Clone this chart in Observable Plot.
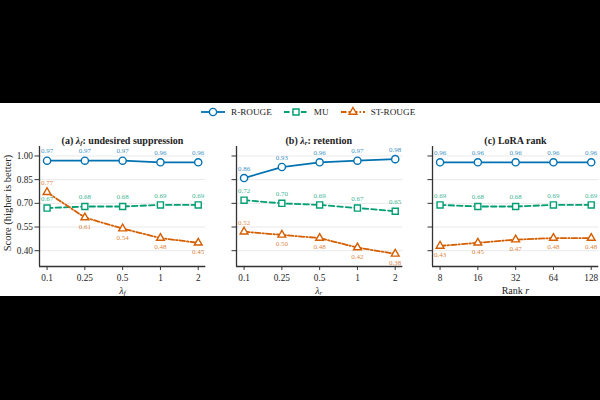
<!DOCTYPE html>
<html>
<head>
<meta charset="utf-8">
<script src="https://cdn.jsdelivr.net/npm/d3@7"></script>
<script src="https://cdn.jsdelivr.net/npm/@observablehq/plot@0.6"></script>
<style>
  html, body { margin: 0; padding: 0; background: #000; width: 600px; height: 400px; overflow: hidden; }
  body { font-family: "Liberation Serif", "DejaVu Serif", serif; color: #222; }
  #sheet { position: absolute; left: 0; top: 103px; width: 600px; height: 193px; background: #fff; }
  .abs { position: absolute; }
  .title { font-weight: bold; font-size: 10px; white-space: nowrap; transform: translate(-50%, -50%); }
  .xlab { font-size: 10px; white-space: nowrap; transform: translate(-50%, -50%); }
  .ylab { font-size: 10.5px; white-space: nowrap; transform: translate(-50%, -50%) rotate(-90deg); }
  sub { font-size: 0.7em; vertical-align: -0.25em; line-height: 0; }
  #legend { position: absolute; top: 104px; left: 201px; height: 16px; display: flex; align-items: center; font-size: 9.2px; font-family: "Liberation Serif", serif; }
  #legend .item { display: flex; align-items: center; margin-right: 12px; }
  #legend svg { margin-right: 6px; }
</style>
</head>
<body>
<div id="sheet"></div>
<div id="legend"></div>
<script>
// Shared y ticks and per-panel x categories
const yTicks = [0.40, 0.55, 0.70, 0.85, 1.00];
const lambdaLabels = ["0.1", "0.25", "0.5", "1", "2"];
const rankLabels = ["8", "16", "32", "64", "128"];

// (a) lambda_f sweep
const aRouge = [0.97, 0.97, 0.97, 0.96, 0.96];
const aMU = [0.67, 0.68, 0.68, 0.69, 0.69];
const aST = [0.77, 0.61, 0.54, 0.48, 0.45];
// (b) lambda_r sweep
const bRouge = [0.86, 0.93, 0.96, 0.97, 0.98];
const bMU = [0.72, 0.70, 0.69, 0.67, 0.65];
const bST = [0.52, 0.50, 0.48, 0.42, 0.38];
// (c) LoRA rank sweep
const cRouge = [0.96, 0.96, 0.96, 0.96, 0.96];
const cMU = [0.69, 0.68, 0.68, 0.69, 0.69];
const cST = [0.43, 0.45, 0.47, 0.48, 0.48];

// Label placement: -1 above the marker, +1 below
const aSTside = [-1, 1, 1, 1, 1];
const bSTside = [-1, 1, 1, 1, 1];
const cSTside = [1, 1, 1, 1, 1];

const seriesStyle = {
  "R-ROUGE":  { color: "#0072B2", dash: null,            symbol: "circle",   r: 3.6 },
  "MU":       { color: "#009E73", dash: "5.5,3",         symbol: "square",   r: 3.4 },
  "ST-ROUGE": { color: "#D55E00", dash: "5.5,2,1.5,2",   symbol: "triangle", r: 2.9 }
};

const FONT = '"Liberation Serif", "DejaVu Serif", serif';
const PLOT_TOP = 146, PLOT_H = 120;

function panel(x0, x1, labels, series, showYLabels) {
  const mL = 40, mR = 6, mT = 12, mB = 30;
  const W = x1 - x0;
  const marks = [
    Plot.gridY(yTicks, { stroke: "#e3e3e3", strokeOpacity: 1, strokeWidth: 0.8 }),
    Plot.axisY(yTicks, {
      tickSize: 4.5, tickPadding: 2, fontSize: 9.3, stroke: "#333", strokeWidth: 1,
      tickFormat: showYLabels ? d3.format(".2f") : () => "", fill: "#222"
    }),
    Plot.axisX([0, 1, 2, 3, 4], {
      tickSize: 4, tickPadding: 3.5, fontSize: 9.3, stroke: "#333", strokeWidth: 1,
      tickFormat: i => labels[i], fill: "#222"
    }),
    Plot.ruleX([-0.2], { stroke: "#333", strokeWidth: 1.3 }),
    Plot.ruleY([0.30], { stroke: "#333", strokeWidth: 1.3 })
  ];
  for (const s of series) {
    const st = seriesStyle[s.name];
    const rows = s.values.map((v, i) => ({ i, v, side: s.side ? s.side[i] : -1 }));
    marks.push(Plot.lineY(rows, {
      x: "i", y: "v", stroke: st.color, strokeWidth: 1.8,
      strokeDasharray: st.dash || undefined
    }));
    marks.push(Plot.dot(rows, {
      x: "i", y: "v", symbol: st.symbol, r: st.r, fill: "white",
      stroke: st.color, strokeWidth: 1.4
    }));
    marks.push(Plot.text(rows.filter(d => d.side < 0), {
      x: "i", y: "v", text: d => d.v.toFixed(2), dy: -9.5, fontSize: 7,
      fill: st.color, fillOpacity: 0.8
    }));
    marks.push(Plot.text(rows.filter(d => d.side > 0), {
      x: "i", y: "v", text: d => d.v.toFixed(2), dy: 9, fontSize: 7,
      fill: st.color, fillOpacity: 0.8
    }));
  }
  const svg = Plot.plot({
    width: mL + W + mR, height: mT + PLOT_H + mB,
    marginLeft: mL, marginRight: mR, marginTop: mT, marginBottom: mB,
    style: { fontFamily: FONT, background: "transparent", overflow: "visible" },
    x: { type: "linear", domain: [-0.2, 4.2], label: null },
    y: { domain: [0.30, 1.06], label: null },
    marks
  });
  svg.style.position = "absolute";
  svg.style.left = (x0 - mL) + "px";
  svg.style.top = (PLOT_TOP - mT) + "px";
  document.body.appendChild(svg);
}

function addDiv(cls, html, x, y) {
  const d = document.createElement("div");
  d.className = "abs " + cls;
  d.innerHTML = html;
  d.style.left = x + "px";
  d.style.top = y + "px";
  document.body.appendChild(d);
}

const panels = [
  { x0: 39.3, x1: 205.6, labels: lambdaLabels, R: aRouge, M: aMU, S: aST, side: aSTside,
    title: "(a) <i>λ<sub>f</sub></i>: undesired suppression", xlab: "<i>λ<sub>f</sub></i>" },
  { x0: 235.6, x1: 401.9, labels: lambdaLabels, R: bRouge, M: bMU, S: bST, side: bSTside,
    title: "(b) <i>λ<sub>r</sub></i>: retention", xlab: "<i>λ<sub>r</sub></i>" },
  { x0: 432.3, x1: 598.6, labels: rankLabels, R: cRouge, M: cMU, S: cST, side: cSTside,
    title: "(c) LoRA rank", xlab: "Rank <i>r</i>" }
];

panels.forEach((p, k) => {
  panel(p.x0, p.x1, p.labels, [
    { name: "R-ROUGE", values: p.R },
    { name: "MU", values: p.M },
    { name: "ST-ROUGE", values: p.S, side: p.side }
  ], k === 0);
  const cx = (p.x0 + p.x1) / 2;
  addDiv("title", p.title, cx, 140);
  addDiv("xlab", p.xlab, cx, 290);
});

addDiv("ylab", "Score (higher is better)", 7, 203);

// Legend swatches: line segment with the series marker in the middle
const legend = document.getElementById("legend");
for (const name of ["R-ROUGE", "MU", "ST-ROUGE"]) {
  const st = seriesStyle[name];
  const item = document.createElement("div");
  item.className = "item";
  const ns = "http://www.w3.org/2000/svg";
  const sw = document.createElementNS(ns, "svg");
  sw.setAttribute("width", 24); sw.setAttribute("height", 12);
  const ln = document.createElementNS(ns, "line");
  ln.setAttribute("x1", 0); ln.setAttribute("x2", 24);
  ln.setAttribute("y1", 6); ln.setAttribute("y2", 6);
  ln.setAttribute("stroke", st.color); ln.setAttribute("stroke-width", 1.8);
  if (st.dash) ln.setAttribute("stroke-dasharray", st.dash);
  sw.appendChild(ln);
  const sym = { circle: d3.symbolCircle, square: d3.symbolSquare, triangle: d3.symbolTriangle }[st.symbol];
  const path = document.createElementNS(ns, "path");
  path.setAttribute("d", d3.symbol(sym, Math.PI * st.r * st.r)());
  path.setAttribute("transform", "translate(12,6)");
  path.setAttribute("fill", "white"); path.setAttribute("stroke", st.color);
  path.setAttribute("stroke-width", 1.4);
  sw.appendChild(path);
  item.appendChild(sw);
  const t = document.createElement("span");
  t.textContent = name;
  item.appendChild(t);
  legend.appendChild(item);
}
</script>
</body>
</html>
